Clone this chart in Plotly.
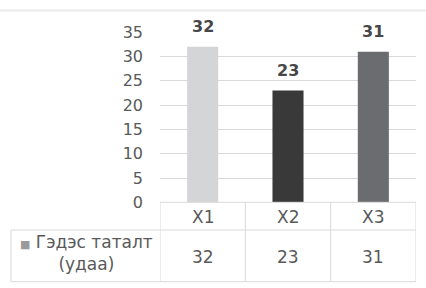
import plotly.graph_objects as go

categories = ["X1", "X2", "X3"]
values = [32, 23, 31]
bar_colors = ["#d4d5d7", "#393939", "#6b6c6f"]
series_name = "Гэдэс таталт<br>(удаа)"
y_ticks = [0, 5, 10, 15, 20, 25, 30, 35]

W, H = 426, 288
FONT = "DejaVu Sans"
TXT = "#595959"
GRID = "#d9d9d9"

def px(x):
    return x / W

def py(y):
    return (H - y) / H

x0, x1 = 160, 416
y_top, y_zero = 32.3, 202.3
y_mid, y_bot = 230, 281.7
x_left = 11

fig = go.Figure()
fig.add_trace(go.Bar(
    x=categories, y=values,
    marker=dict(color=bar_colors, line=dict(width=0)),
    cliponaxis=False, width=0.364, hoverinfo="skip",
))

shapes = []
line = dict(color=GRID, width=1)
shapes.append(dict(type="line", xref="paper", yref="paper", x0=0, x1=1, y0=py(10.5), y1=py(10.5), line=dict(color="#ebebeb", width=2)))
shapes.append(dict(type="line", xref="paper", yref="paper", x0=px(x0), x1=px(x1), y0=py(y_zero), y1=py(y_zero), line=line))
shapes.append(dict(type="line", xref="paper", yref="paper", x0=px(x_left), x1=px(x1), y0=py(y_mid), y1=py(y_mid), line=line))
shapes.append(dict(type="line", xref="paper", yref="paper", x0=px(x_left), x1=px(x1), y0=py(y_bot), y1=py(y_bot), line=line))
shapes.append(dict(type="line", xref="paper", yref="paper", x0=px(x_left), x1=px(x_left), y0=py(y_mid), y1=py(y_bot), line=line))
for b in [-0.5, 0.5, 1.5, 2.5]:
    shapes.append(dict(type="line", xref="x", yref="paper", x0=b, x1=b, y0=py(y_zero), y1=py(y_bot), line=line))

annotations = []
for c, v in zip(categories, values):
    # data label above bar
    annotations.append(dict(x=c, xref="x", y=v, yref="y", text="<b>%d</b>" % v, showarrow=False,
                            font=dict(family=FONT, size=16, color="#474747"),
                            xanchor="center", yanchor="middle", yshift=20))
    annotations.append(dict(x=c, xref="x", y=py(216.5), yref="paper", text=c, showarrow=False,
                            font=dict(family=FONT, size=17, color=TXT), xanchor="center", yanchor="middle"))
    annotations.append(dict(x=c, xref="x", y=py(256.5), yref="paper", text=str(v), showarrow=False,
                            font=dict(family=FONT, size=17, color=TXT), xanchor="center", yanchor="middle"))
annotations.append(dict(x=px((x_left + x0) / 2 + 1), xref="paper", y=py(252.5), yref="paper",
                        text='<span style="color:#9a9a9a;font-size:11px">■</span> ' + series_name,
                        showarrow=False, align="center",
                        font=dict(family=FONT, size=17, color=TXT), xanchor="center", yanchor="middle"))

fig.update_layout(
    width=W, height=H, margin=dict(l=0, r=0, t=0, b=0, pad=0),
    paper_bgcolor="white", plot_bgcolor="white",
    showlegend=False, shapes=shapes, annotations=annotations,
    xaxis=dict(domain=[px(x0), px(x1)], showticklabels=False, showgrid=False, zeroline=False,
               showline=False, ticks="", range=[-0.5, 2.5], automargin=False),
    yaxis=dict(domain=[py(y_zero), py(y_top)], range=[0, 35], tickvals=y_ticks,
               showgrid=True, gridcolor=GRID, gridwidth=1, zeroline=False, showline=False,
               ticks="", ticklabelstandoff=16, automargin=False,
               tickfont=dict(family=FONT, size=16, color=TXT)),
)

fig.write_html("out.html", config={"displayModeBar": False},
               post_script="document.body.style.margin='0';")
